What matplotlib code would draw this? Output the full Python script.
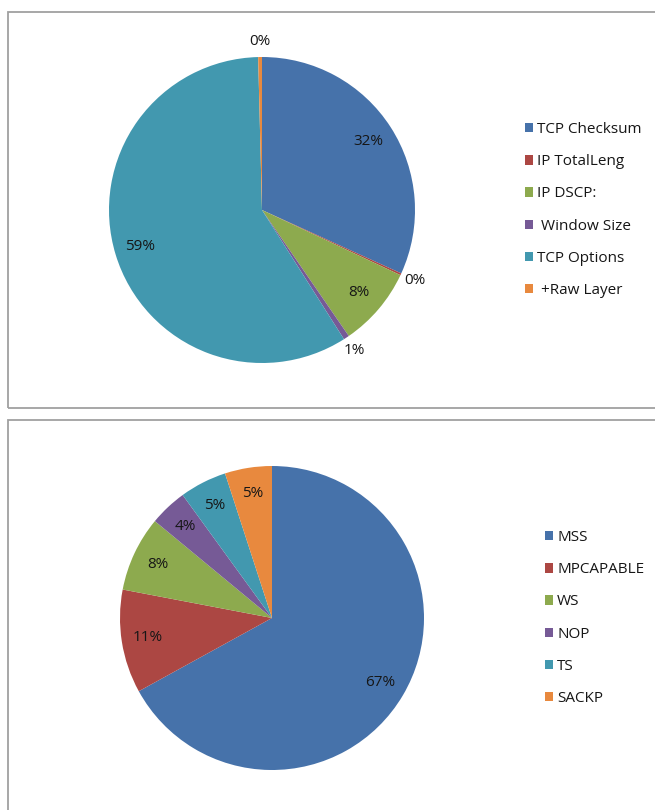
import matplotlib
matplotlib.use('Agg')
import matplotlib.pyplot as plt
from matplotlib.patches import Rectangle
import numpy as np

plt.rcParams['font.family'] = ['Open Sans', 'DejaVu Sans']

# top chart: header fields changed
top_labels = ['TCP Checksum', 'IP TotalLeng', 'IP DSCP:', ' Window Size', 'TCP Options', ' +Raw Layer']
top_values = [31.8, 0.2, 8.4, 0.6, 58.6, 0.4]

# bottom chart: TCP options
bot_labels = ['MSS', 'MPCAPABLE', 'WS', 'NOP', 'TS', 'SACKP']
bot_values = [67, 11, 8, 4, 5, 5]

colors = ['#4672AA', '#AC4743', '#8DAA4E', '#765A96', '#4298AF', '#E8893E']

W, H = 655, 810
fig = plt.figure(figsize=(W / 100, H / 100), dpi=100)


def fx(x):
    return x / W


def fy(y):
    return 1 - y / H


# panel borders
for (x0, y0, x1, y1) in [(8, 12, 700, 408), (8, 420, 700, 860)]:
    fig.patches.append(Rectangle((fx(x0), fy(y1)), fx(x1) - fx(x0), fy(y0) - fy(y1),
                                 transform=fig.transFigure, fill=False,
                                 edgecolor='#a0a0a0', linewidth=1.3))


def draw_pie(values, labels, cx, cy, r, leg_x, leg_y):
    ax = fig.add_axes([fx(cx - r), fy(cy + r), 2 * r / W, 2 * r / H])
    wedges, texts, autotexts = ax.pie(values, colors=colors, startangle=90, counterclock=False,
                                      autopct='%.0f%%', pctdistance=0.83,
                                      wedgeprops=dict(edgecolor='none'),
                                      textprops=dict(fontsize=11, color='#161616'))
    for w, t, v in zip(wedges, autotexts, values):
        if v < 2:
            ang = np.deg2rad((w.theta1 + w.theta2) / 2)
            t.set_position((1.1 * np.cos(ang), 1.1 * np.sin(ang)))
    ax.set_xlim(-1, 1)
    ax.set_ylim(-1, 1)
    ax.axis('off')
    leg = fig.legend(wedges, labels, loc='center left', bbox_to_anchor=(fx(leg_x), fy(leg_y)),
                     bbox_transform=fig.transFigure, frameon=False, fontsize=11,
                     handlelength=0.55, handleheight=0.55, handletextpad=0.25,
                     labelspacing=1.12, borderpad=0, borderaxespad=0)
    for t in leg.get_texts():
        t.set_color('#161616')


draw_pie(top_values, top_labels, 262, 210, 153, 525, 210)
draw_pie(bot_values, bot_labels, 272, 618, 152, 545, 618)

fig.savefig('out.png', dpi=100)
